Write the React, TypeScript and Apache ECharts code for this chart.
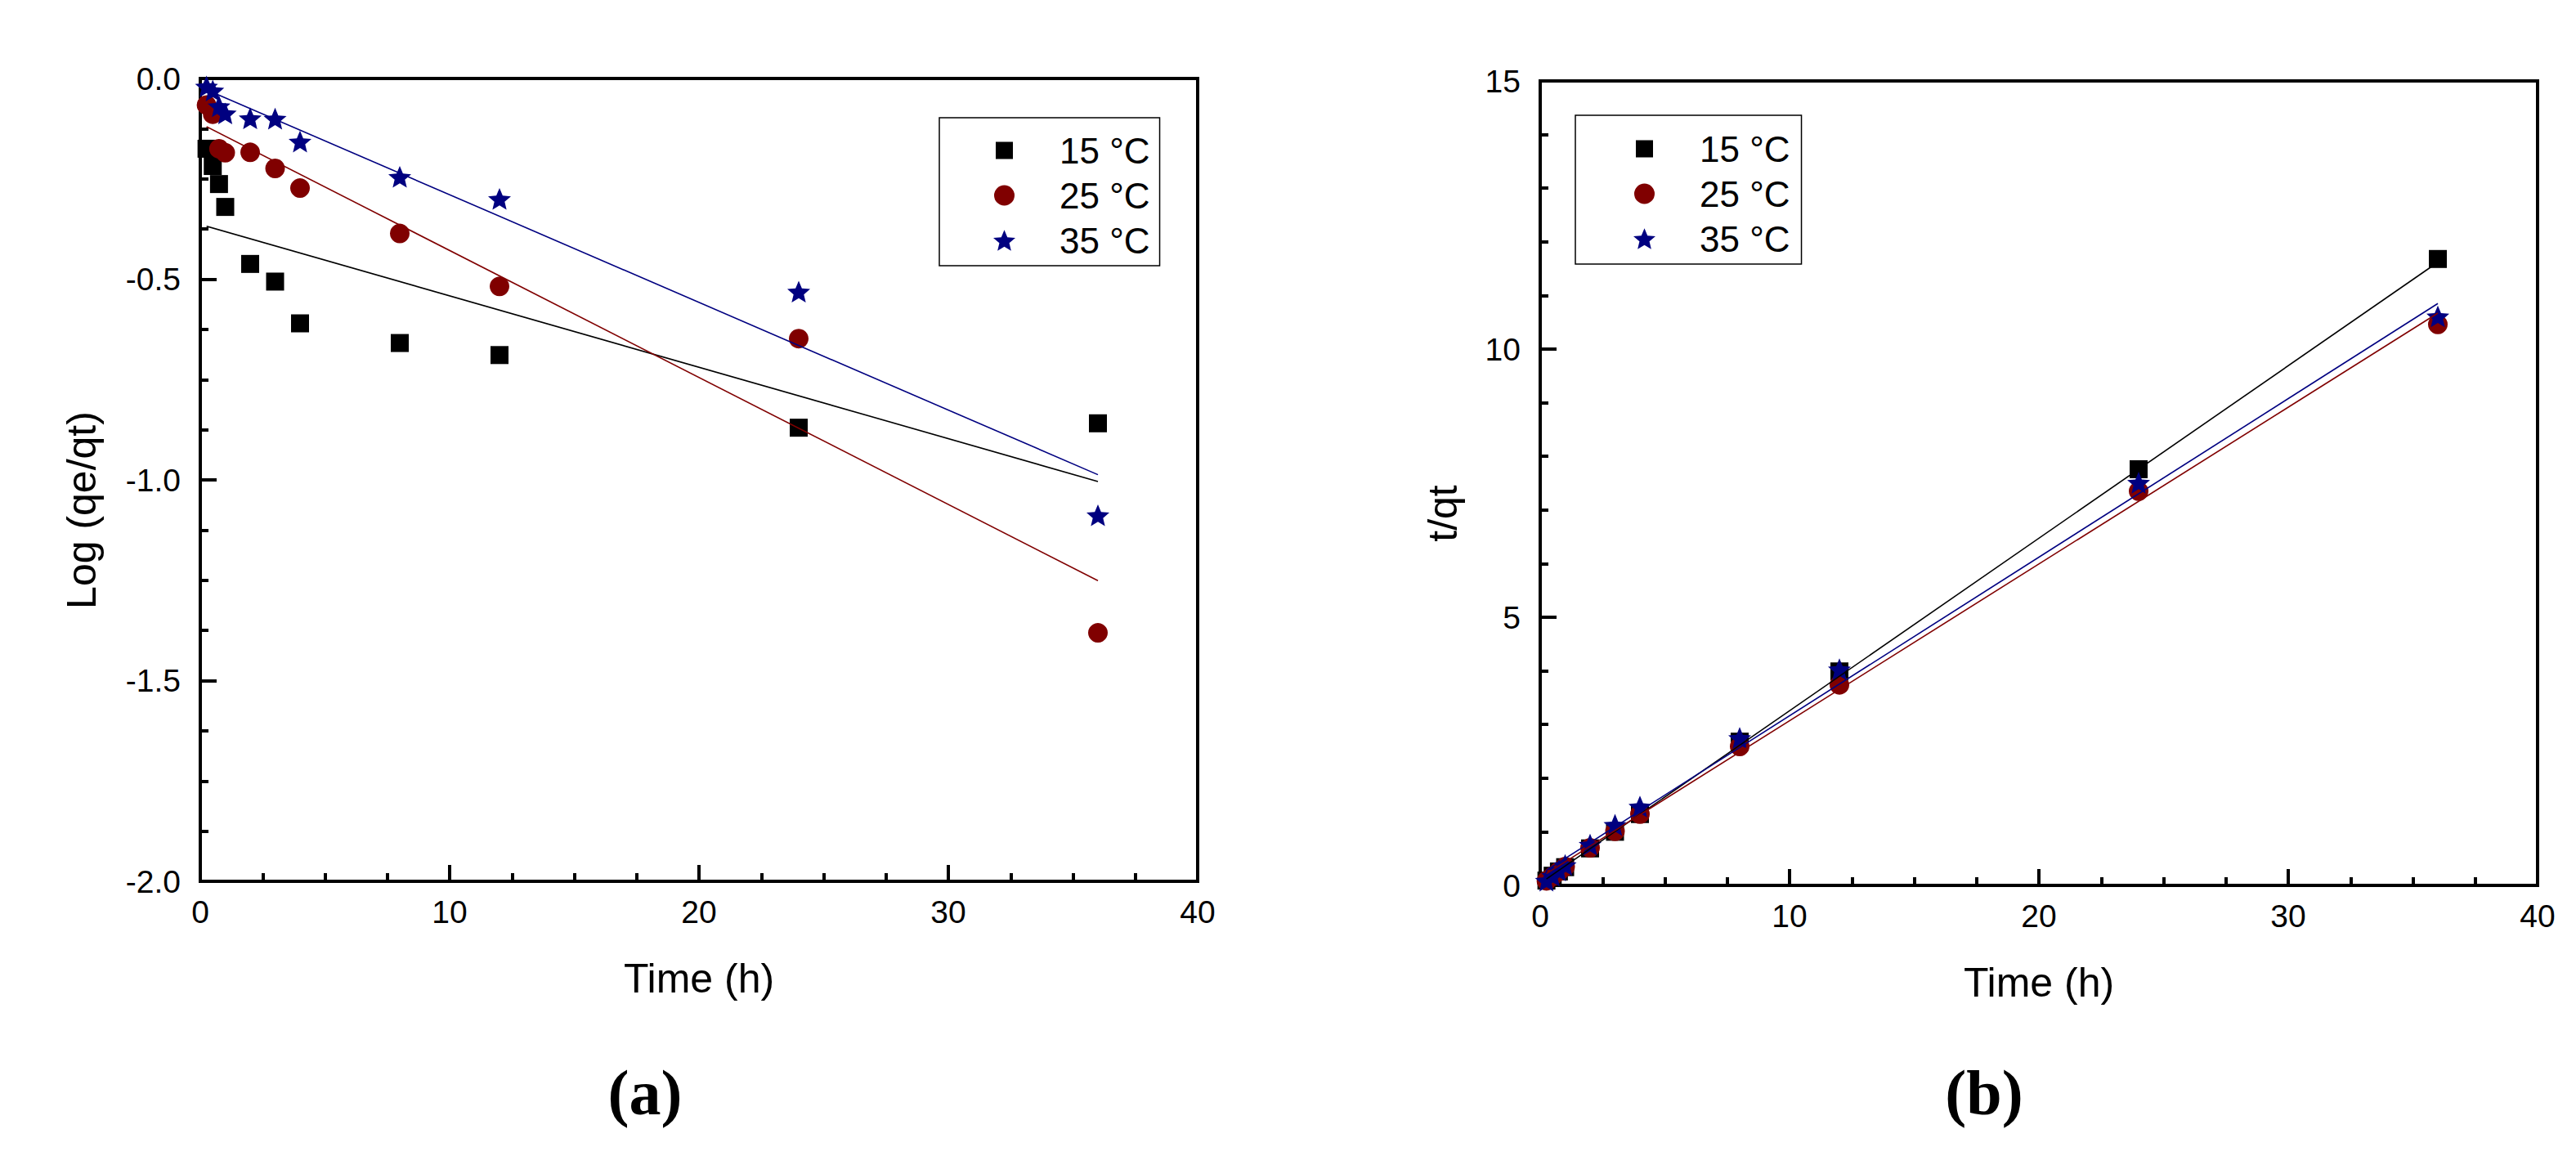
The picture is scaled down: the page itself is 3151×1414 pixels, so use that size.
import React, { useEffect, useRef } from "react";
import * as echarts from "echarts";

// ---------- data ----------
const times = [0.25, 0.5, 0.75, 1, 2, 3, 4, 8, 12, 24, 36];
const seriesNames = ["15 °C", "25 °C", "35 °C"];
const seriesColors = ["#000000", "#800000", "#000080"];

// (a) Log (qe/qt)
const logQ15 = [-0.175, -0.218, -0.263, -0.32, -0.462, -0.506, -0.61, -0.659, -0.689, -0.87, -0.859];
const logQ25 = [-0.066, -0.089, -0.175, -0.185, -0.184, -0.224, -0.273, -0.386, -0.518, -0.648, -1.381];
const logQ35 = [-0.02, -0.03, -0.069, -0.087, -0.099, -0.1, -0.157, -0.245, -0.3, -0.531, -1.088];
const fitLog15 = [[0.25, -0.368], [36, -1.004]];
const fitLog25 = [[0.25, -0.12], [36, -1.251]];
const fitLog35 = [[0.25, -0.028], [36, -0.987]];

// (b) t/qt
const tq15 = [0.09, 0.18, 0.26, 0.34, 0.69, 1.0, 1.33, 2.68, 3.99, 7.76, 11.68];
const tq25 = [0.085, 0.17, 0.26, 0.35, 0.7, 1.01, 1.33, 2.59, 3.74, 7.35, 10.46];
const tq35 = [0.09, 0.18, 0.28, 0.38, 0.76, 1.13, 1.47, 2.75, 4.03, 7.51, 10.61];
const fitTq15 = [[0.25, 0.12], [36, 11.62]];
const fitTq25 = [[0.25, 0.22], [36, 10.67]];
const fitTq35 = [[0.25, 0.28], [36, 10.85]];

// tick values
const xTicks = [0, 10, 20, 30, 40];
const yTicksA = [-2.0, -1.5, -1.0, -0.5, 0.0];
const yTicksB = [0, 5, 10, 15];

const panelLabels = ["(a)", "(b)"];
const xTitle = "Time (h)";
const yTitleA = "Log (qe/qt)";
const yTitleB = "t/qt";

// ---------- styles ----------
const FONT = "Liberation Sans, Arial, sans-serif";
const STAR =
  "path://M50,0L63.23,31.8L97.55,34.55L71.4,56.95L79.39,90.45L50,72.5L20.61,90.45L28.6,56.95L2.45,34.55L36.77,31.8Z";
const symbols = ["rect", "circle", STAR];
const symbolSizes: any[] = [22, 24, [28, 26.6]];
// legend icons padded inside a 27x27 box so that they keep their own sizes
const LEG_SQUARE = "path://M0,0L0,0M3,3L24,3L24,24L3,24ZM27,27L27,27";
const LEG_CIRCLE = "path://M0,0L0,0M27,27L27,27M1,13.5A12.5,12.5 0 1 1 26,13.5A12.5,12.5 0 1 1 1,13.5Z";
const legendIcons = [LEG_SQUARE, LEG_CIRCLE, STAR];

function axisCommon() {
  return {
    type: "value",
    axisLine: { show: true, onZero: false, lineStyle: { color: "#000", width: 4 } },
    axisTick: { show: true, inside: true, length: 20, lineStyle: { color: "#000", width: 4 } },
    minorTick: { show: true, splitNumber: 4, length: 10, lineStyle: { color: "#000", width: 4 } },
    splitLine: { show: false },
    minorSplitLine: { show: false },
    axisLabel: { color: "#000", fontSize: 39, fontFamily: FONT },
    nameTextStyle: { color: "#000", fontSize: 50, fontFamily: FONT },
  };
}

function xAxis(gridIndex: number) {
  const c: any = axisCommon();
  return {
    ...c,
    gridIndex,
    min: xTicks[0],
    max: xTicks[xTicks.length - 1],
    interval: xTicks[1] - xTicks[0],
    name: xTitle,
    nameLocation: "middle",
    nameGap: 94,
    axisLabel: { ...c.axisLabel, margin: 18 },
  };
}

function yAxis(gridIndex: number, ticks: number[], name: string, gap: number, minorSplit: number, fmt?: (v: number) => string) {
  const c: any = axisCommon();
  return {
    ...c,
    gridIndex,
    min: ticks[0],
    max: ticks[ticks.length - 1],
    interval: ticks[1] - ticks[0],
    name,
    nameLocation: "middle",
    nameGap: gap,
    nameTextStyle: { ...c.nameTextStyle, padding: [0, 74, 0, 0] },
    minorTick: { ...c.minorTick, splitNumber: minorSplit },
    axisLabel: { ...c.axisLabel, margin: 24, formatter: fmt },
  };
}

function scatterSeries(gi: number, values: number[], i: number) {
  return {
    type: "scatter",
    name: seriesNames[i],
    xAxisIndex: gi,
    yAxisIndex: gi,
    symbol: symbols[i],
    symbolSize: symbolSizes[i],
    itemStyle: { color: seriesColors[i], opacity: 1 },
    data: times.map((t, k) => [t, values[k]]),
    z: 2 + i,
    silent: true,
  };
}

function fitSeries(gi: number, pts: number[][], i: number) {
  return {
    type: "line",
    name: seriesNames[i] + " fit",
    xAxisIndex: gi,
    yAxisIndex: gi,
    symbol: "none",
    showSymbol: false,
    lineStyle: { color: seriesColors[i], width: 1.6 },
    data: pts,
    z: 10,
    silent: true,
  };
}

function legend(left: number, top: number, padding: number[], textPad: number) {
  return {
    show: true,
    orient: "vertical",
    align: "left",
    left,
    top,
    data: seriesNames.map((n, i) => ({ name: n, icon: legendIcons[i] })),
    itemWidth: 27,
    itemHeight: 27,
    itemGap: 11,
    padding,
    borderColor: "#000",
    borderWidth: 1.5,
    backgroundColor: "#fff",
    selectedMode: false,
    textStyle: { color: "#000", fontSize: 44, fontFamily: FONT, padding: [0, 0, 0, textPad] },
  };
}

export default function App() {
  const ref = useRef<HTMLDivElement>(null);
  useEffect(() => {
    document.body.style.margin = "0";
    if (!ref.current) return;
    const chart = echarts.init(ref.current, null, { renderer: "svg" });
    const option: any = {
      animation: false,
      backgroundColor: "#ffffff",
      grid: [
        { left: 245, top: 96, width: 1220, height: 982, show: true, borderColor: "#000", borderWidth: 4, backgroundColor: "transparent", containLabel: false, outerBoundsMode: "none" },
        { left: 1884, top: 99, width: 1220, height: 984, show: true, borderColor: "#000", borderWidth: 4, backgroundColor: "transparent", containLabel: false, outerBoundsMode: "none" },
      ],
      xAxis: [xAxis(0), xAxis(1)],
      yAxis: [
        yAxis(0, yTicksA, yTitleA, 120, 4, (v: number) => v.toFixed(1)),
        yAxis(1, yTicksB, yTitleB, 94, 5),
      ],
      legend: [
        legend(1149, 144, [18, 12, 9, 66], 49),
        legend(1927, 141, [19, 14, 9, 71], 49),
      ],
      series: [
        scatterSeries(0, logQ15, 0),
        scatterSeries(0, logQ25, 1),
        scatterSeries(0, logQ35, 2),
        fitSeries(0, fitLog15, 0),
        fitSeries(0, fitLog25, 1),
        fitSeries(0, fitLog35, 2),
        scatterSeries(1, tq15, 0),
        scatterSeries(1, tq25, 1),
        scatterSeries(1, tq35, 2),
        fitSeries(1, fitTq15, 0),
        fitSeries(1, fitTq25, 1),
        fitSeries(1, fitTq35, 2),
      ],
      graphic: [
        {
          type: "text",
          x: 789,
          y: 1336,
          style: { text: panelLabels[0], fontSize: 78, fontWeight: "bold", fontFamily: "Liberation Serif, Times New Roman, serif", fill: "#000", align: "center", verticalAlign: "middle" },
        },
        {
          type: "text",
          x: 2427,
          y: 1336,
          style: { text: panelLabels[1], fontSize: 78, fontWeight: "bold", fontFamily: "Liberation Serif, Times New Roman, serif", fill: "#000", align: "center", verticalAlign: "middle" },
        },
      ],
    };
    chart.setOption(option);
    return () => chart.dispose();
  }, []);
  return <div ref={ref} style={{ width: "3151px", height: "1414px" }} />;
}
